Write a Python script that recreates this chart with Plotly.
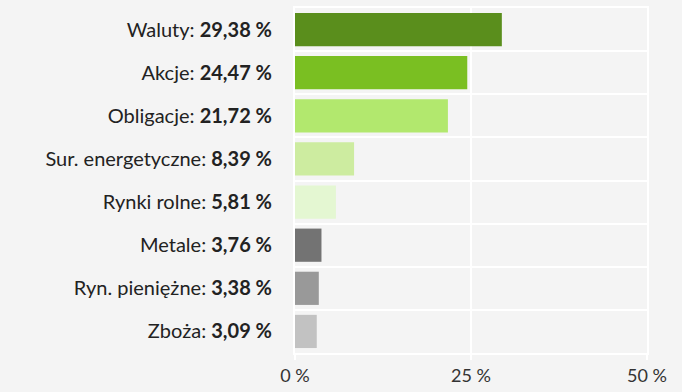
import plotly.graph_objects as go

# Share of each market group
categories = ["Waluty", "Akcje", "Obligacje", "Sur. energetyczne",
              "Rynki rolne", "Metale", "Ryn. pieniężne", "Zboża"]
values = [29.38, 24.47, 21.72, 8.39, 5.81, 3.76, 3.38, 3.09]
colors = ["#5a8e1c", "#7abf22", "#b2e86e", "#cdeca0",
          "#e4f7d2", "#737373", "#999999", "#c2c2c2"]
x_ticks = [0, 25, 50]


def pl_number(v):
    return f"{v:.2f}".replace(".", ",")


tick_text = [f"{c}: <b>{pl_number(v)} %</b>" for c, v in zip(categories, values)]

fig = go.Figure(
    go.Bar(
        x=values,
        y=categories,
        orientation="h",
        marker=dict(color=colors, line=dict(width=0)),
        hoverinfo="skip",
    )
)

fig.update_layout(
    width=682,
    height=392,
    margin=dict(l=295, r=35, t=6, b=33),
    paper_bgcolor="#f4f4f4",
    plot_bgcolor="#f4f4f4",
    font=dict(family="Lato, 'Open Sans', sans-serif", size=20, color="#222222"),
    bargap=0.23,
    showlegend=False,
)

fig.update_xaxes(
    range=[0, 50],
    tickvals=x_ticks,
    ticktext=[f"{t} %" for t in x_ticks],
    showgrid=True,
    gridcolor="#ffffff",
    gridwidth=2,
    zeroline=False,
    showline=True,
    mirror=True,
    linecolor="#ffffff",
    linewidth=2,
    ticks="outside",
    ticklen=5,
    tickwidth=2,
    tickcolor="#ffffff",
    tickfont=dict(size=18, color="#333333"),
)

fig.update_yaxes(
    type="category",
    categoryorder="array",
    categoryarray=categories,
    autorange="reversed",
    tickvals=categories,
    ticktext=tick_text,
    tickson="boundaries",
    showgrid=True,
    gridcolor="#ffffff",
    gridwidth=2,
    showline=True,
    mirror=True,
    linecolor="#ffffff",
    linewidth=2,
    ticks="",
    ticklabelstandoff=17,
    tickfont=dict(size=20, color="#222222"),
)

fig.write_html("out.html")
